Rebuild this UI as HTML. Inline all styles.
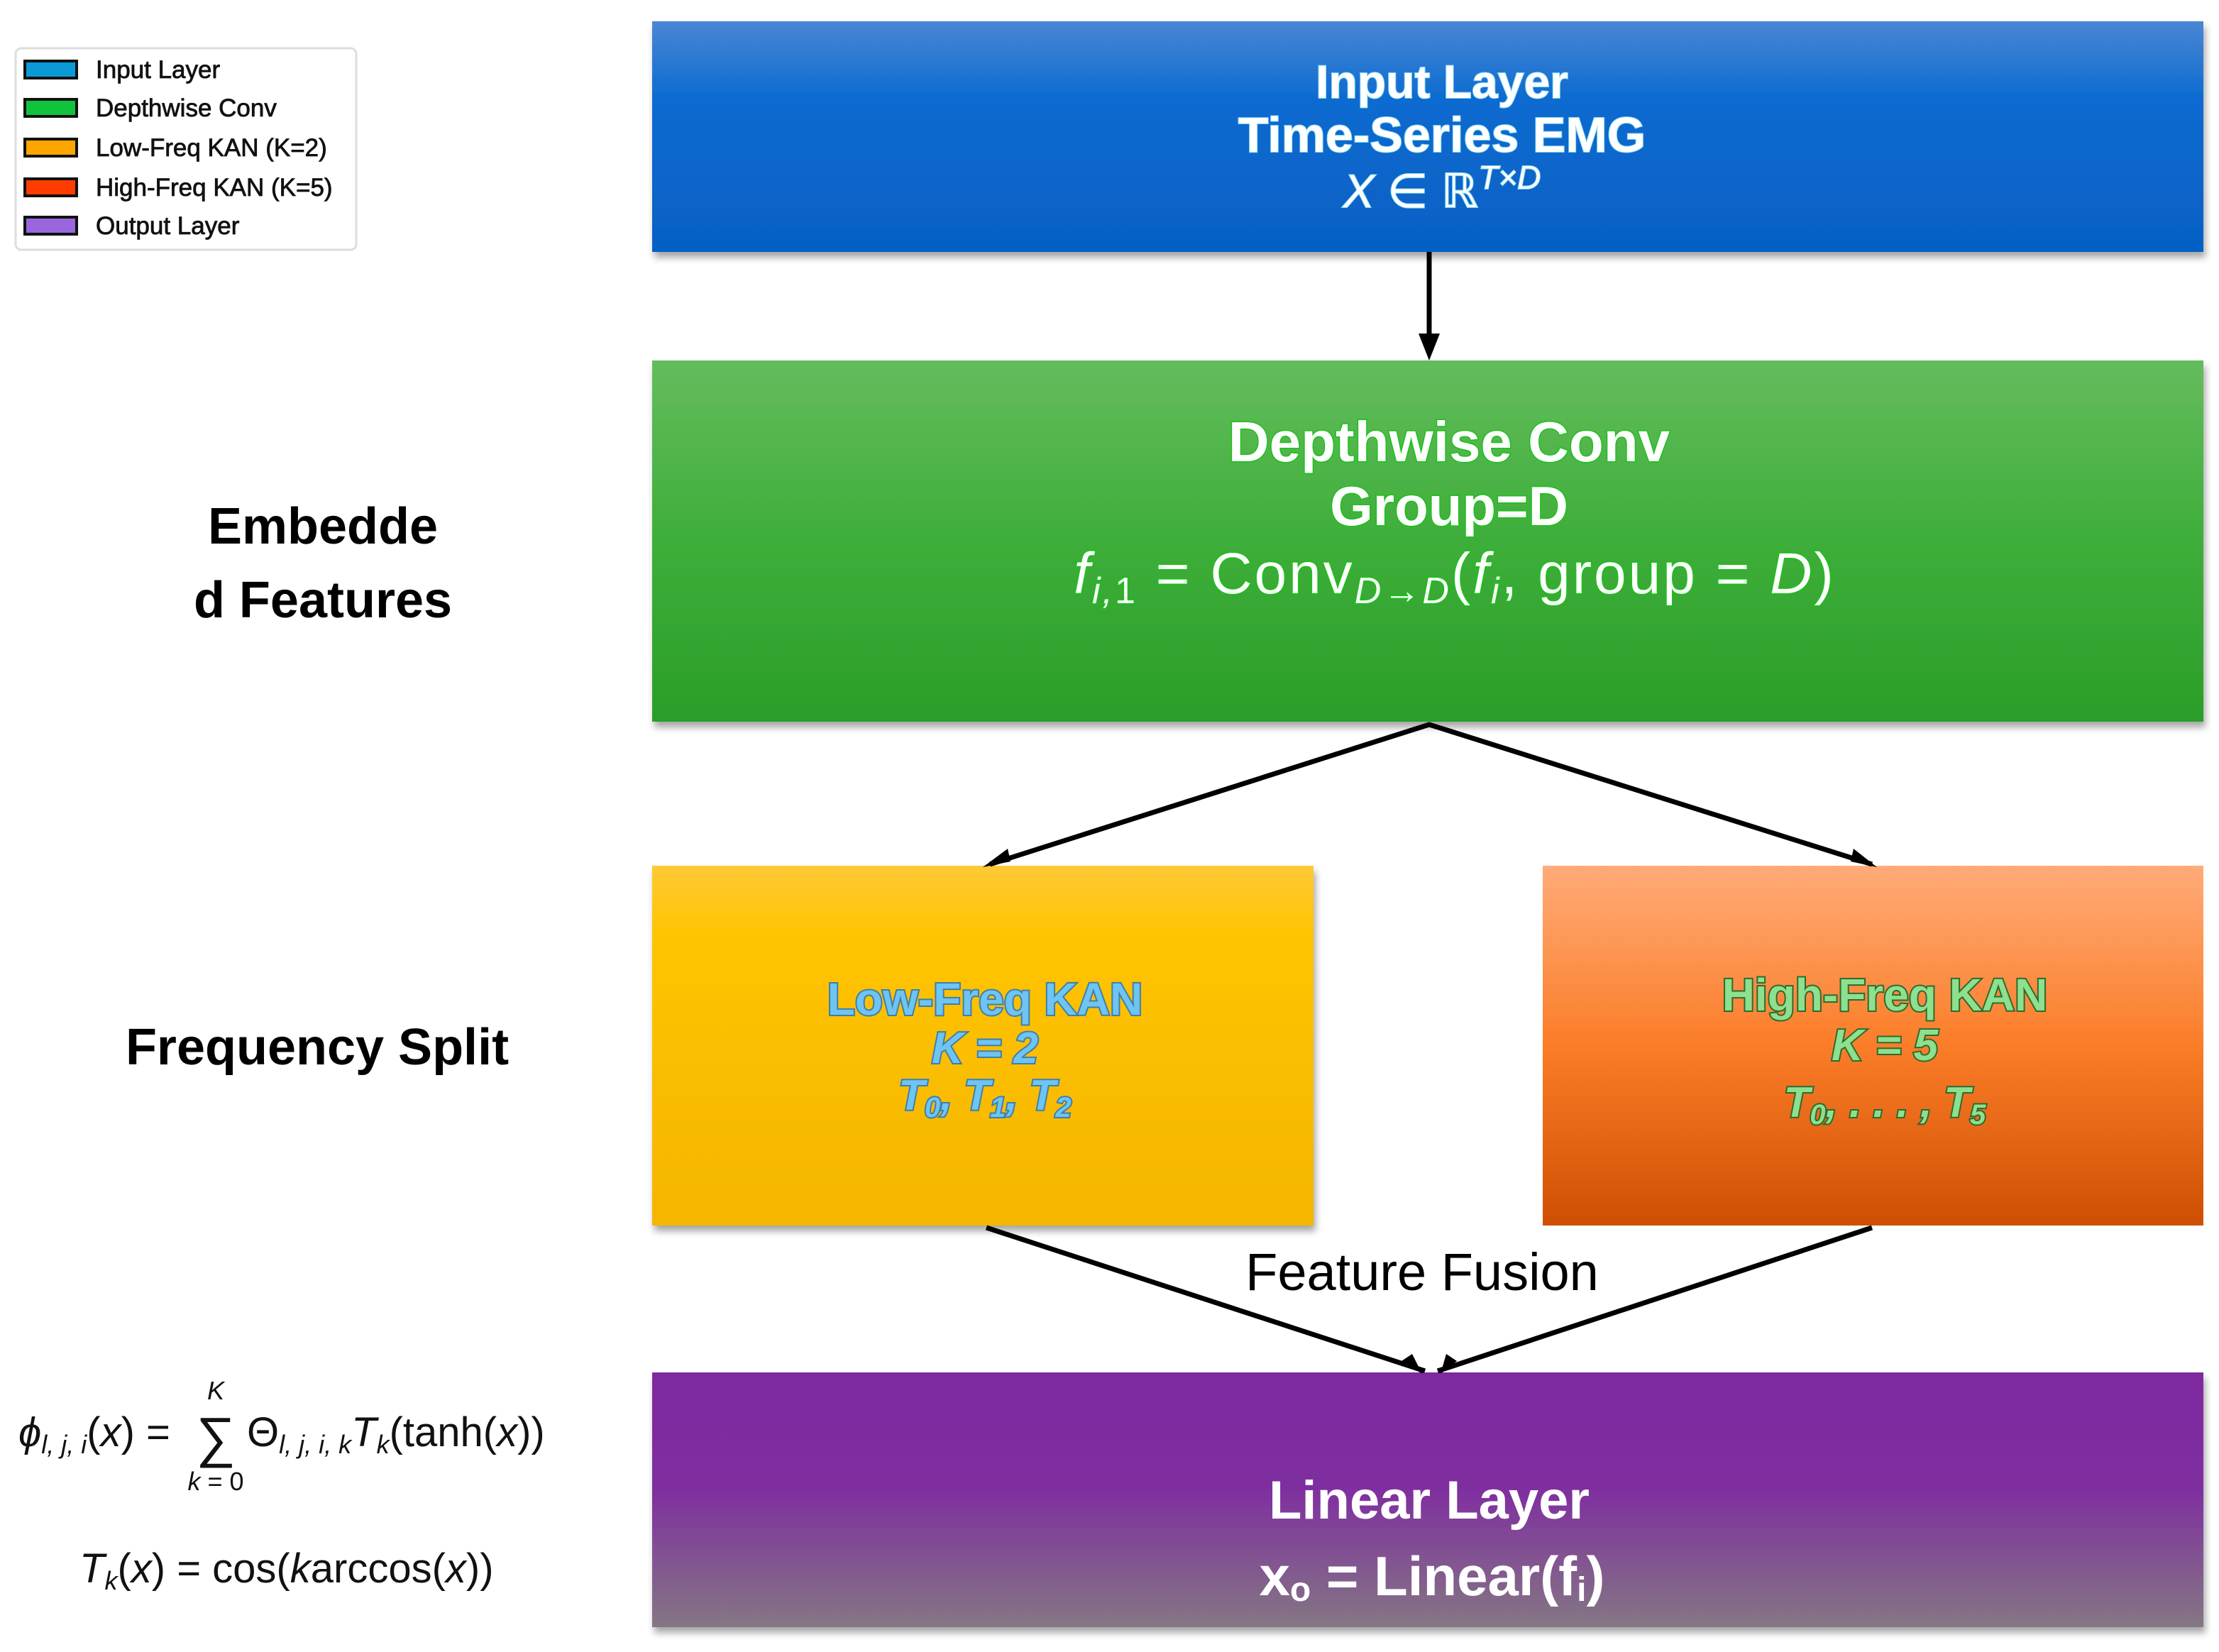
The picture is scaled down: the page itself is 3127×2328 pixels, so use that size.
<!DOCTYPE html>
<html><head><meta charset="utf-8"><style>
html,body{margin:0;padding:0;background:#fff}
svg{display:block}
text{font-family:"Liberation Sans","DejaVu Sans",sans-serif}
</style></head><body>
<svg width="3127" height="2328" viewBox="0 0 3127 2328" xmlns="http://www.w3.org/2000/svg">
<defs>
<linearGradient id="gb" x1="0" y1="0" x2="0" y2="1"><stop offset="0" stop-color="#4a86d4"/><stop offset="0.35" stop-color="#0a6ad0"/><stop offset="1" stop-color="#0660c4"/></linearGradient>
<linearGradient id="gg" x1="0" y1="0" x2="0" y2="1"><stop offset="0" stop-color="#64bc5c"/><stop offset="0.5" stop-color="#3eae3a"/><stop offset="1" stop-color="#2a9e28"/></linearGradient>
<linearGradient id="gy" x1="0" y1="0" x2="0" y2="1"><stop offset="0" stop-color="#ffc935"/><stop offset="0.2" stop-color="#ffc400"/><stop offset="1" stop-color="#f5b500"/></linearGradient>
<linearGradient id="go" x1="0" y1="0" x2="0" y2="1"><stop offset="0" stop-color="#ffab78"/><stop offset="0.5" stop-color="#fb7d28"/><stop offset="1" stop-color="#cf4f02"/></linearGradient>
<linearGradient id="gp" x1="0" y1="0" x2="0" y2="1"><stop offset="0" stop-color="#7d2aa1"/><stop offset="0.45" stop-color="#7f2ea0"/><stop offset="1" stop-color="#847783"/></linearGradient>
<filter id="sh" x="-5%" y="-5%" width="110%" height="115%"><feDropShadow dx="3" dy="8" stdDeviation="5" flood-color="#000" flood-opacity="0.35"/></filter>
</defs>

<rect x="22" y="68" width="480" height="284" rx="8" fill="#fff" stroke="#ddd" stroke-width="3"/>
<g stroke="#111" stroke-width="4">
<rect x="35" y="86" width="73" height="24" fill="#0b9ad6"/>
<rect x="35" y="140" width="73" height="24" fill="#10c33d"/>
<rect x="35" y="196" width="73" height="24" fill="#ffa500"/>
<rect x="35" y="252" width="73" height="24" fill="#ff3c00"/>
<rect x="35" y="306" width="73" height="24" fill="#9966dd"/>
</g>
<g font-size="35" fill="#111" stroke="#111" stroke-width="0.8">
<text x="135" y="110">Input Layer</text>
<text x="135" y="164">Depthwise Conv</text>
<text x="135" y="220">Low-Freq KAN (K=2)</text>
<text x="135" y="276">High-Freq KAN (K=5)</text>
<text x="135" y="330">Output Layer</text>
</g>

<rect x="919" y="30" width="2186" height="325" fill="url(#gb)" filter="url(#sh)"/>
<rect x="919" y="508" width="2186" height="509" fill="url(#gg)" filter="url(#sh)"/>
<rect x="919" y="1220" width="932" height="507" fill="url(#gy)" filter="url(#sh)"/>
<rect x="2174" y="1220" width="931" height="507" fill="url(#go)"/>
<rect x="919" y="1934" width="2186" height="359" fill="url(#gp)" filter="url(#sh)"/>

<g stroke="#000" stroke-width="7" fill="none">
<line x1="2014" y1="355" x2="2014" y2="480"/>
<polyline points="1395,1218 2014,1021 2638,1218"/>
<line x1="1390" y1="1730" x2="2008" y2="1932"/>
<line x1="2638" y1="1730" x2="2026" y2="1932"/>
</g>
<path d="M2014,508 L1999,470 L2029,470 z" fill="#000"/>
<path d="M1385,1222 L1420,1196 L1424,1214 z" fill="#000"/>
<path d="M2645,1222 L2608,1214 L2612,1196 z" fill="#000"/>
<path d="M2004,1936 L1975,1918 L1990,1908 z" fill="#000"/>
<path d="M2030,1936 L2038,1908 L2053,1918 z" fill="#000"/>

<g text-anchor="middle" font-weight="bold" fill="#fff" stroke="#7fd6f0" stroke-width="2" paint-order="stroke">
<text x="2032" y="138" font-size="66">Input Layer</text>
<text x="2032" y="214" font-size="70">Time-Series EMG</text>
<text x="2032" y="292" font-size="66" font-style="italic" font-weight="normal">X ∈ ℝ<tspan font-size="46" dy="-26">T×D</tspan></text>
</g>
<g text-anchor="middle" font-weight="bold" fill="#fff" stroke="#19c219" stroke-width="3" paint-order="stroke">
<text x="2042" y="650" font-size="80">Depthwise Conv</text>
<text x="2042" y="740" font-size="78">Group=D</text>
<text x="2050" y="836" font-size="82" font-weight="normal" letter-spacing="3"><tspan font-style="italic">f</tspan><tspan font-size="52" dy="14" font-style="italic">i,</tspan><tspan font-size="52">1</tspan><tspan dy="-14"> = Conv</tspan><tspan font-size="52" dy="14" font-style="italic">D→D</tspan><tspan dy="-14">(</tspan><tspan font-style="italic">f</tspan><tspan font-size="52" dy="14" font-style="italic">i</tspan><tspan dy="-14">, group = </tspan><tspan font-style="italic">D</tspan>)</text>
</g>
<g text-anchor="middle" font-weight="bold" fill="#6ec4f2" stroke="#3f7fa8" stroke-width="4" paint-order="stroke">
<text x="1388" y="1430" font-size="64">Low-Freq KAN</text>
<text x="1388" y="1498" font-size="62" font-style="italic">K = 2</text>
<text x="1388" y="1564" font-size="60" font-style="italic">T<tspan font-size="40" dy="10">0</tspan><tspan dy="-10">, T</tspan><tspan font-size="40" dy="10">1</tspan><tspan dy="-10">, T</tspan><tspan font-size="40" dy="10">2</tspan></text>
</g>
<g text-anchor="middle" font-weight="bold" fill="#8de08d" stroke="#2f6a2f" stroke-width="4" paint-order="stroke">
<text x="2656" y="1424" font-size="64">High-Freq KAN</text>
<text x="2656" y="1494" font-size="62" font-style="italic">K = 5</text>
<text x="2656" y="1574" font-size="60" font-style="italic">T<tspan font-size="40" dy="10">0</tspan><tspan dy="-10">, . . . , T</tspan><tspan font-size="40" dy="10">5</tspan></text>
</g>
<g text-anchor="middle" font-weight="bold" fill="#fff">
<text x="2014" y="2140" font-size="76">Linear Layer</text>
<text x="2018" y="2248" font-size="78">x<tspan font-size="48" dy="8">o</tspan><tspan dy="-8"> = Linear(f</tspan><tspan font-size="48" dy="8">i</tspan><tspan dy="-8">)</tspan></text>
</g>

<g text-anchor="middle" font-weight="bold" fill="#000" font-size="72">
<text x="455" y="766">Embedde</text>
<text x="455" y="870">d Features</text>
<text x="447" y="1500">Frequency Split</text>
</g>
<text x="2004" y="1818" text-anchor="middle" font-size="74" fill="#000">Feature Fusion</text>

<g fill="#111" font-family="DejaVu Sans, sans-serif">
<text x="26" y="2038" font-size="58"><tspan font-style="italic">ϕ</tspan><tspan font-size="36" dy="10" font-style="italic">l, j, i</tspan><tspan dy="-10">(</tspan><tspan font-style="italic">x</tspan>) = </text>
<text x="304" y="1972" font-size="36" text-anchor="middle" font-style="italic">K</text>
<text x="304" y="2052" font-size="78" text-anchor="middle">∑</text>
<text x="304" y="2100" font-size="36" text-anchor="middle"><tspan font-style="italic">k</tspan> = 0</text>
<text x="348" y="2038" font-size="58">Θ<tspan font-size="36" dy="10" font-style="italic">l, j, i, k</tspan><tspan dy="-10" font-style="italic">T</tspan><tspan font-size="36" dy="10" font-style="italic">k</tspan><tspan dy="-10">(tanh(</tspan><tspan font-style="italic">x</tspan>))</text>
<text x="112" y="2230" font-size="58"><tspan font-style="italic">T</tspan><tspan font-size="36" dy="10" font-style="italic">k</tspan><tspan dy="-10">(</tspan><tspan font-style="italic">x</tspan>) = cos(<tspan font-style="italic">k</tspan>arccos(<tspan font-style="italic">x</tspan>))</text>
</g>
</svg>
</body></html>
